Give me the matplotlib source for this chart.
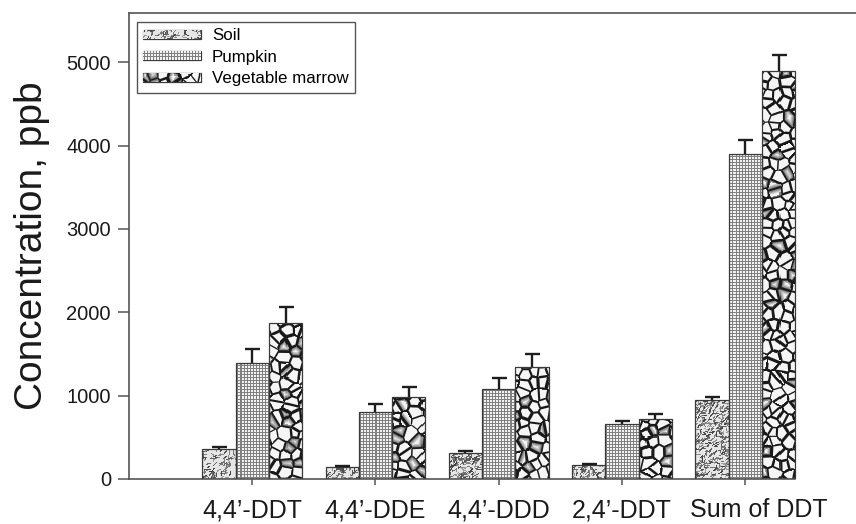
import numpy as np
import matplotlib
matplotlib.use("Agg")
import matplotlib.pyplot as plt
from matplotlib.transforms import ScaledTranslation

# ---------------------------------------------------------------- data
compounds = ["4,4\u2019-DDT", "4,4\u2019-DDE", "4,4\u2019-DDD", "2,4\u2019-DDT", "Sum of DDT"]
series = ["Soil", "Pumpkin", "Vegetable marrow"]

soil = [355, 148, 316, 168, 947]
soil_err = [30, 12, 20, 16, 33]
pumpkin = [1395, 800, 1079, 656, 3897]
pumpkin_err = [160, 96, 136, 40, 168]
marrow = [1874, 980, 1339, 723, 4892]
marrow_err = [190, 120, 160, 60, 192]

y_ticks = [0, 1000, 2000, 3000, 4000, 5000]

# ---------------------------------------------------------------- fill textures
W_PX, H_PX, DPI = 856, 524, 100


def speckle_texture(h, w, seed=3):
    """Stipple of short dark strokes (soil fill)."""
    rng = np.random.default_rng(seed)
    img = np.full((h, w), 0.9)
    n = h * w // 8
    x0 = rng.uniform(0, w, n)
    y0 = rng.uniform(0, h, n)
    ang = rng.normal(np.deg2rad(35), 0.6, n)
    length = rng.uniform(2, 5, n)
    tone = rng.uniform(0.25, 0.65, n)
    for t in np.linspace(0, 1, 6):
        xs = np.clip((x0 + np.cos(ang) * length * t).astype(int), 0, w - 1)
        ys = np.clip((y0 - np.sin(ang) * length * t).astype(int), 0, h - 1)
        np.minimum.at(img, (ys, xs), tone)
    return img


def grid_texture(h, w, step=3):
    """Fine square mesh (pumpkin fill)."""
    yy, xx = np.mgrid[0:h, 0:w]
    img = np.full((h, w), 0.95)
    img[(xx % step == 0) | (yy % step == 0)] = 0.5
    return img


def crack_texture(h, w, cell=10, seed=11):
    """Cracked-stone cell pattern (vegetable marrow fill)."""
    rng = np.random.default_rng(seed)
    ny, nx = h // cell + 3, w // cell + 3
    gx = ((np.arange(nx)[None, :] - 1 + rng.random((ny, nx))) * cell).astype(np.float32)
    gy = ((np.arange(ny)[:, None] - 1 + rng.random((ny, nx))) * cell).astype(np.float32)
    half = rng.uniform(0.5, 1.9, (ny, nx)).astype(np.float32)
    shaded = rng.random((ny, nx)) < 0.2
    yy, xx = (np.mgrid[0:h, 0:w] + 0.5).astype(np.float32)
    ci = (xx // cell).astype(np.int32) + 1
    cj = (yy // cell).astype(np.int32) + 1
    offs = [(dj, di) for dj in (-1, 0, 1) for di in (-1, 0, 1)]
    cj_all = np.stack([cj + dj for dj, di in offs])
    ci_all = np.stack([ci + di for dj, di in offs])
    d = np.hypot(xx - gx[cj_all, ci_all], yy - gy[cj_all, ci_all])
    order = np.argsort(d, axis=0)

    def take(a, k):
        return np.take_along_axis(a, order[k][None], 0)[0]

    d1, d2 = take(d, 0), take(d, 1)
    j1, i1 = take(cj_all, 0), take(ci_all, 0)
    j2, i2 = take(cj_all, 1), take(ci_all, 1)
    del d, order, cj_all, ci_all
    sep = np.hypot(gx[j1, i1] - gx[j2, i2], gy[j1, i1] - gy[j2, i2])
    edge = (d2 ** 2 - d1 ** 2) / (2 * np.maximum(sep, 1e-3))
    hw = 0.5 * (half[j1, i1] + half[j2, i2])
    line = np.clip(edge - hw + 0.5, 0, 1)
    tone = np.where(shaded[j1, i1], 0.3 + 0.65 * np.clip(edge / (0.5 * cell), 0, 1), 0.96)
    return 0.1 + (tone - 0.1) * line


textures = [speckle_texture(H_PX, W_PX), grid_texture(H_PX, W_PX), crack_texture(H_PX, W_PX)]

# ---------------------------------------------------------------- figure
plt.rcParams["font.family"] = ["Liberation Sans", "DejaVu Sans"]
fig = plt.figure(figsize=(W_PX / DPI, H_PX / DPI), dpi=DPI)
ax = fig.add_axes([129 / W_PX, 45 / H_PX, 739.5 / W_PX, 466 / H_PX])
ax.set_xlim(-1, 5)
ax.set_ylim(0, 5590)
ax.set_autoscale_on(False)

edge_col = "#3a3a3a"
x = np.arange(len(compounds))
width = 0.27
values = [soil, pumpkin, marrow]
errors = [soil_err, pumpkin_err, marrow_err]

inv = ax.transData.inverted()
(fx0, fy0), (fx1, fy1) = inv.transform([(0, 0), (W_PX, H_PX)])
tex_extent = (fx0, fx1, fy0, fy1)


def paint(patch, tex, z):
    im = ax.imshow(tex, cmap="gray", vmin=0, vmax=1, extent=tex_extent,
                   origin="upper", aspect="auto", interpolation="nearest", zorder=z)
    im.set_clip_path(patch)
    return im


containers = []
for k, (vals, errs, tex) in enumerate(zip(values, errors, textures)):
    pos = x + (k - 1) * width
    bars = ax.bar(pos, vals, width, facecolor="none", edgecolor=edge_col,
                  linewidth=0.9, zorder=3)
    containers.append(bars)
    for p in bars.patches:
        paint(p, tex, 2)
    _, caps, _ = ax.errorbar(pos, vals, yerr=[np.zeros(len(errs)), errs], fmt="none",
                             ecolor="#1e1e1e", elinewidth=1.7, capsize=5.4,
                             capthick=1.7, zorder=4)
    caps[0].set_visible(False)

# ---------------------------------------------------------------- axes styling
spine_col = "#555555"
for side in ("left", "bottom", "top"):
    ax.spines[side].set_color(spine_col)
    ax.spines[side].set_linewidth(1.2)
ax.spines["right"].set_visible(False)
ax.spines["bottom"].set_bounds(-1, x[-1] + 1.5 * width)

ax.set_yticks(y_ticks)
ax.set_yticklabels([str(v) for v in y_ticks])
ax.set_xticks(x)
ax.set_xticklabels(compounds)
ax.tick_params(axis="y", direction="out", length=8, width=1.1, color=spine_col,
               labelsize=14.5, labelcolor="#1a1a1a", pad=5)
ax.tick_params(axis="x", direction="out", length=4, width=1.1, color=spine_col,
               labelsize=18, labelcolor="#1a1a1a", pad=10)

ax.set_ylabel("Concentration, ppb", fontsize=28, color="#1a1a1a")
ax.yaxis.set_label_coords(-0.107, 0.5)

leg = ax.legend(containers, series, loc="upper left",
                bbox_to_anchor=(8 / 739.5, 1 - 9 / 466), borderaxespad=0,
                fontsize=12.2, frameon=True, fancybox=False, framealpha=1,
                handlelength=3.4, handleheight=0.45, handletextpad=0.65,
                labelspacing=0.38, borderpad=0.38)
leg.get_frame().set_edgecolor("#555555")
leg.get_frame().set_linewidth(1.0)
leg.set_zorder(5)

fig.canvas.draw()
for h, tex in zip(leg.legend_handles, textures):
    paint(h, tex, 6)

# the summary label sits a little right of its tick
last = ax.get_xticklabels()[-1]
last.set_transform(last.get_transform() + ScaledTranslation(0.14, 0, fig.dpi_scale_trans))

ax.set_xlim(-1, 5)
ax.set_ylim(0, 5590)
fig.savefig("out.png", dpi=DPI)
